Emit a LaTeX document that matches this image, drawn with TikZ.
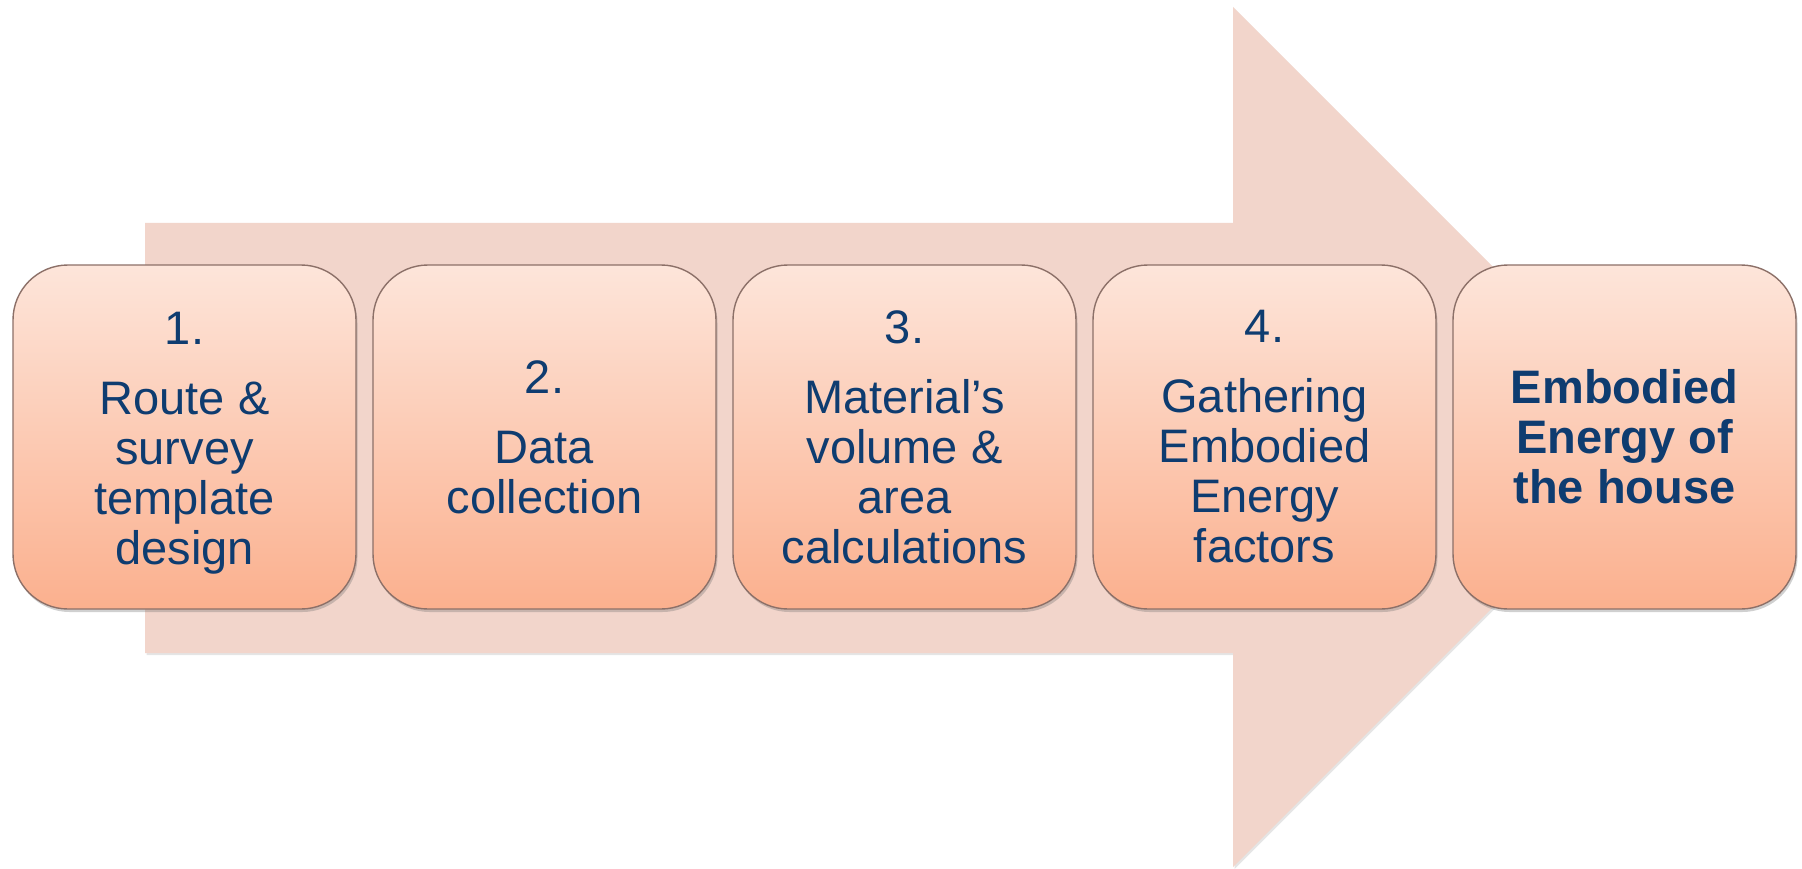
\documentclass[tikz,border=0pt]{standalone}
\usepackage{fontspec}
\setmainfont{Liberation Sans}
\usetikzlibrary{shadows}

\definecolor{arrowfill}{RGB}{242,213,203}
\definecolor{boxtop}{RGB}{253,229,218}
\definecolor{boxbot}{RGB}{251,176,142}
\definecolor{boxline}{RGB}{140,112,104}
\definecolor{txt}{RGB}{14,60,112}

\tikzset{
  stage/.style={rectangle, rounded corners=55pt, minimum width=343pt,
    minimum height=344pt, inner sep=0pt, draw=boxline, line width=1.4pt,
    top color=boxtop, bottom color=boxbot,
    drop shadow={shadow xshift=1.5pt, shadow yshift=-3pt, opacity=.3, fill=black!60},
    font=\fontsize{47}{50}\selectfont, text=txt, align=center},
  bigarrow/.style={fill=arrowfill, draw=none,
    drop shadow={shadow xshift=1.5pt, shadow yshift=-2pt, opacity=.2, fill=black!50}}
}

\begin{document}
\begin{tikzpicture}[x=1pt,y=-1pt]
  \useasboundingbox (0,0) rectangle (1802,869);
  \fill[white] (0,0) rectangle (1802,869);

  % background block arrow
  \path[bigarrow] (145,223) -- (1233,223) -- (1233,7) -- (1663,437)
    -- (1233,867) -- (1233,653) -- (145,653) -- cycle;

  % process steps
  \node[stage] (s1) at (184.5,437) {\rule{0pt}{45pt}1.\\[20pt]Route \&\\survey\\template\\design};
  \node[stage] (s2) at (544.5,437) {2.\\[20pt]Data\\collection};
  \node[stage] (s3) at (904.5,437) {3.\\[20pt]Material’s\\volume \&\\area\\calculations};
  \node[stage] (s4) at (1264.5,437) {4.\\[20pt]Gathering\\Embodied\\Energy\\factors};
  \node[stage, font=\fontsize{47}{50}\selectfont\bfseries] (s5) at (1624.5,437)
    {Embodied\\Energy of\\the house};
\end{tikzpicture}
\end{document}
